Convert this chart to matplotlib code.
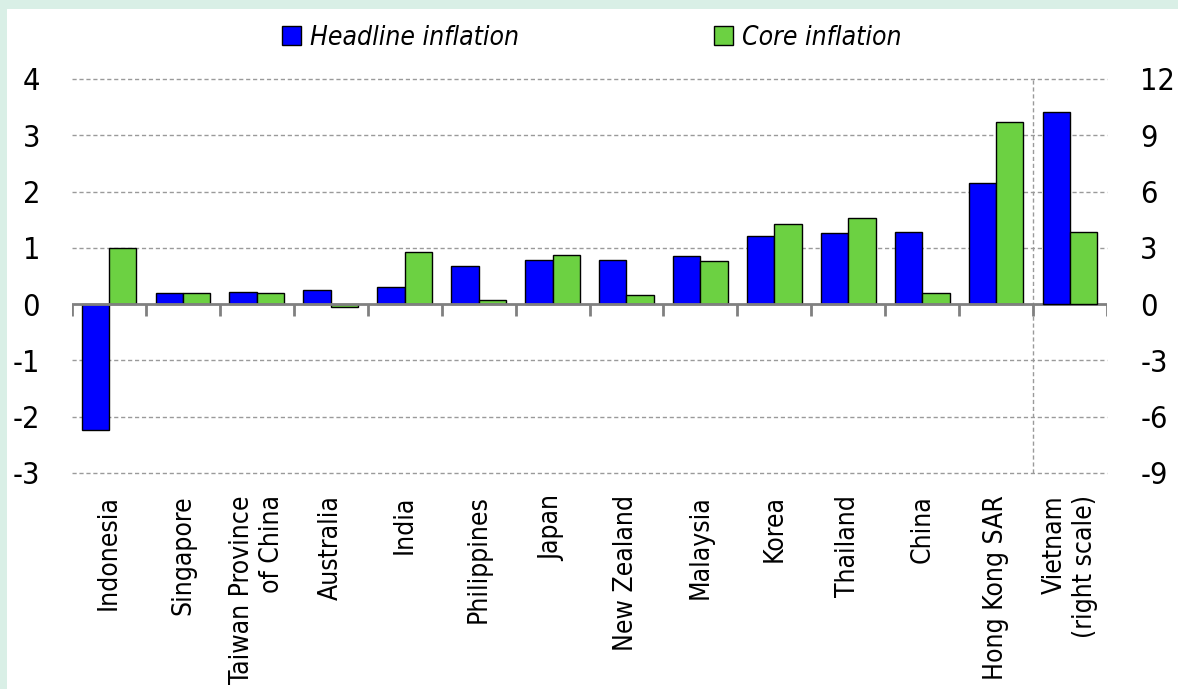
import matplotlib.pyplot as plt
import numpy as np
from matplotlib.patches import Patch, Rectangle

plt.rcParams['font.family'] = ['DejaVu Sans']
plt.rcParams['font.stretch'] = 'condensed'

countries = ['Indonesia', 'Singapore', 'Taiwan Province\nof China', 'Australia', 'India',
             'Philippines', 'Japan', 'New Zealand', 'Malaysia', 'Korea', 'Thailand',
             'China', 'Hong Kong SAR', 'Vietnam\n(right scale)']
# left scale, all but Vietnam
headline = [-2.23, 0.19, 0.22, 0.26, 0.30, 0.68, 0.79, 0.79, 0.86, 1.21, 1.26, 1.28, 2.16]
core = [1.00, 0.19, 0.19, -0.05, 0.92, 0.08, 0.87, 0.16, 0.77, 1.43, 1.53, 0.19, 3.23]
# right scale, Vietnam
vn_headline = 10.25
vn_core = 3.86

left_ticks = [-3, -2, -1, 0, 1, 2, 3, 4]
right_ticks = [-9, -6, -3, 0, 3, 6, 9, 12]

blue = '#0000ff'
green = '#6cd142'
grid_c = '#9a9a9a'
axis_c = '#808080'

fig = plt.figure(figsize=(11.78, 6.89), dpi=100)
fig.patch.set_facecolor('#d9efe6')
fig.patches.append(Rectangle((7 / 1178, 0), 1, 680 / 689, transform=fig.transFigure,
                             facecolor='white', edgecolor='none', zorder=-5))

ax = fig.add_axes([72 / 1178, 1 - 473 / 689, 1035 / 1178, 394 / 689])
ax.set_facecolor('none')
ax2 = ax.twinx()

n = len(countries)
x = np.arange(n)
w = 0.37
ax.bar(x[:-1] - w / 2, headline, w, color=blue, edgecolor='black', lw=1, zorder=3)
ax.bar(x[:-1] + w / 2, core, w, color=green, edgecolor='black', lw=1, zorder=3)
ax2.bar([x[-1] - w / 2], [vn_headline], w, color=blue, edgecolor='black', lw=1, zorder=3)
ax2.bar([x[-1] + w / 2], [vn_core], w, color=green, edgecolor='black', lw=1, zorder=3)

ax.set_xlim(-0.5, n - 0.5)
ax.set_ylim(-3, 4)
ax2.set_ylim(-9, 12)

for t in left_ticks:
    if t != 0:
        ax.axhline(t, color=grid_c, lw=1, ls=(0, (3, 2)), zorder=1, clip_on=False)
ax.axvline(n - 1.5, color=grid_c, lw=1, ls=(0, (3, 2)), zorder=1)
ax.axhline(0, color=axis_c, lw=2, zorder=4)
ax.vlines(np.arange(n + 1) - 0.5, -0.21, 0, color=axis_c, lw=2, zorder=4)

for s in ax.spines.values():
    s.set_visible(False)
for s in ax2.spines.values():
    s.set_visible(False)

ax.set_yticks(left_ticks)
ax.set_yticklabels([str(t) for t in left_ticks])
ax.tick_params(axis='y', length=0, pad=23, labelsize=22)
ax2.set_yticks(right_ticks)
ax2.set_yticklabels([str(t) for t in right_ticks])
ax2.tick_params(axis='y', length=0, pad=24, labelsize=22)

ax.set_xticks(x)
ax.set_xticklabels(countries, rotation=90, va='top', ha='center', multialignment='right', fontsize=19)
ax.tick_params(axis='x', length=0, pad=16)

labels = ['Headline inflation', 'Core inflation']
colors = [blue, green]
lx = [282, 714]
for lab, c, px in zip(labels, colors, lx):
    fig.legend([Patch(facecolor=c, edgecolor='black', lw=1)], [lab], loc='center left',
               bbox_to_anchor=(px / 1178, 1 - 38 / 689), frameon=False,
               prop={'size': 19, 'style': 'italic'}, handlelength=0.72, handleheight=0.72,
               handletextpad=0.35, borderpad=0, borderaxespad=0)

fig.savefig('out.png', dpi=100, facecolor=fig.get_facecolor())
